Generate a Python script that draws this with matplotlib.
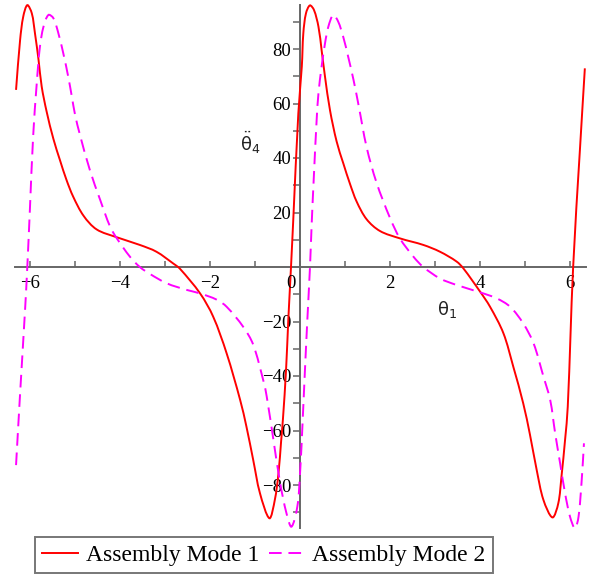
import matplotlib
matplotlib.use("Agg")
import matplotlib.pyplot as plt
import numpy as np
from matplotlib.lines import Line2D
from matplotlib.patches import PathPatch
from matplotlib.path import Path
from matplotlib.ticker import FixedLocator, FuncFormatter

# values (theta_1 in rad, theta_4 double-dot)
mode1_x = [-6.31, -6.22, -6.15, -6.06, -5.96, -5.89, -5.81, -5.74, -5.63, -5.48,
           -5.33, -5.19, -5.04, -4.81, -4.52, -4.07, -3.56, -3.19, -2.81, -2.67,
           -2.22, -1.93, -1.63, -1.33, -1.19, -1.04, -0.89, -0.68, -0.56, -0.48,
           -0.42, -0.38, -0.31, -0.26, -0.20, -0.15, -0.037, 0.04, 0.074, 0.133,
           0.22, 0.311, 0.41, 0.48, 0.556, 0.667, 0.815, 0.963, 1.111, 1.259,
           1.481, 1.778, 2.222, 2.74, 3.111, 3.48, 3.63, 4.0, 4.22, 4.52,
           4.74, 4.96, 5.11, 5.26, 5.41, 5.61, 5.74, 5.81, 5.89, 5.95,
           6.07, 6.22, 6.33]
mode1_y = [65.0, 83.3, 91.9, 96.1, 93.1, 85.8, 76.0, 66.2, 57.0, 47.0,
           39.0, 32.0, 25.8, 18.8, 13.8, 10.9, 8.1, 5.6, 1.2, -0.6,
           -9.7, -18.2, -31.7, -48.8, -58.6, -70.8, -83.0, -92.2, -85.5, -76.0,
           -64.0, -56.0, -37.8, -19.4, 0.0, 17.2, 56.4, 73.5, 85.8, 93.1,
           96.0, 94.3, 88.2, 79.6, 69.8, 57.5, 46.0, 38.0, 30.5, 24.0,
           17.5, 13.2, 10.5, 8.1, 5.6, 2.0, -0.5, -9.0, -14.5, -24.3,
           -36.6, -50.0, -61.5, -74.5, -85.5, -91.9, -86.7, -77.0, -63.5, -51.3,
           0.0, 42.9, 72.9]

mode2_x = [-6.31, -6.22, -6.11, -6.06, -6.0, -5.93, -5.85, -5.78, -5.70, -5.59,
           -5.48, -5.37, -5.26, -5.15, -5.07, -5.0, -4.89, -4.67, -4.44, -4.22,
           -4.07, -3.78, -3.56, -3.33, -2.96, -2.52, -2.22, -1.85, -1.63, -1.26,
           -1.04, -0.81, -0.74, -0.59, -0.44, -0.30, -0.19, -0.06, 0.0, 0.06,
           0.11, 0.163, 0.222, 0.26, 0.31, 0.37, 0.41, 0.48, 0.556, 0.63,
           0.74, 0.85, 0.96, 1.07, 1.19, 1.30, 1.48, 1.70, 2.0, 2.22,
           2.52, 2.74, 3.11, 3.48, 4.0, 4.37, 4.67, 4.96, 5.19,
           5.41, 5.56, 5.67, 5.78, 5.89, 6.0, 6.11, 6.19, 6.26, 6.31]
mode2_y = [-72.7, -46.4, -15.8, 0.0, 22.0, 48.0, 67.4, 80.8, 88.2, 92.5,
           91.3, 85.8, 78.4, 69.8, 62.5, 56.0, 48.5, 35.6, 24.6, 14.8,
           10.5, 3.8, 0.0, -2.6, -6.0, -8.4, -9.7, -12.0, -14.6, -22.0,
           -28.5, -42.0, -47.5, -63.5, -79.4, -90.4, -95.3, -88.0, -76.0, -56.0,
           -37.8, -19.4, 0.0, 16.0, 34.0, 54.0, 63.7, 73.5, 82.1, 88.2,
           92.5, 90.0, 84.5, 77.2, 68.6, 59.5, 44.0, 31.0, 18.0, 10.5,
           3.8, 0.0, -4.2, -6.6, -9.3, -11.5, -14.6, -20.7, -28.0,
           -40.2, -48.8, -61.0, -72.0, -83.0, -91.6, -95.9, -91.6, -78.2, -64.7]

labels = ["Assembly Mode 1", "Assembly Mode 2"]
x_major = [-6, -4, -2, 0, 2, 4, 6]
x_minor = [-5, -3, -1, 1, 3, 5]
y_major = [-80, -60, -40, -20, 20, 40, 60, 80]
y_minor = [-90, -70, -50, -30, -10, 10, 30, 50, 70, 90]

PX_X, PX_Y = 45.0, 2.725  # pixels per data unit, used for the curve tangents


def smooth_path(xs, ys):
    # cubic bezier segments through the read points (chord-length tangents)
    p = np.column_stack([xs, ys]).astype(float)
    s = p * [PX_X, PX_Y]
    d = np.hypot(*np.diff(s, axis=0).T)
    n = len(p)
    tang = np.zeros_like(p)
    for i in range(n):
        lo, hi = max(i - 1, 0), min(i + 1, n - 1)
        span = d[lo:hi].sum()
        tang[i] = (p[hi] - p[lo]) / span
    verts, codes = [p[0]], [Path.MOVETO]
    for i in range(n - 1):
        verts += [p[i] + tang[i] * d[i] / 3, p[i + 1] - tang[i + 1] * d[i] / 3, p[i + 1]]
        codes += [Path.CURVE4] * 3
    return Path(verts, codes)


plt.rcParams["font.family"] = ["Liberation Serif", "DejaVu Sans"]
plt.rcParams["mathtext.fontset"] = "custom"
plt.rcParams["mathtext.rm"] = "DejaVu Sans"
plt.rcParams["mathtext.it"] = "DejaVu Sans"
plt.rcParams["mathtext.bf"] = "DejaVu Sans:bold"

axis_col = "#666666"
red, magenta = "#ff0000", "#ff00ff"
fig = plt.figure(figsize=(5.92, 5.75), dpi=100)
ax = fig.add_axes([15 / 592, 47 / 575, 571 / 592, 523 / 575])
ax.set_xlim((15 - 300) / PX_X, (586 - 300) / PX_X)
ax.set_ylim((267 - 528) / PX_Y, (267 - 5) / PX_Y)

ax.add_patch(PathPatch(smooth_path(mode1_x, mode1_y), fill=False, edgecolor=red,
                       lw=1.4, clip_on=False, zorder=3))
ax.add_patch(PathPatch(smooth_path(mode2_x, mode2_y), fill=False, edgecolor=magenta,
                       lw=1.4, linestyle=(0, (6.5, 3.5)), clip_on=False, zorder=3))

for side in ("top", "right"):
    ax.spines[side].set_visible(False)
for side in ("left", "bottom"):
    ax.spines[side].set_position(("data", 0))
    ax.spines[side].set_color(axis_col)
    ax.spines[side].set_linewidth(1.4)
    ax.spines[side].set_zorder(1)

ax.xaxis.set_major_locator(FixedLocator(x_major))
ax.xaxis.set_minor_locator(FixedLocator(x_minor))
ax.yaxis.set_major_locator(FixedLocator(y_major))
ax.yaxis.set_minor_locator(FixedLocator(y_minor))
ax.xaxis.set_major_formatter(FuncFormatter(lambda v, p: "" if v == 0 else f"{v:.0f}".replace("-", "\u2212")))
ax.yaxis.set_major_formatter(FuncFormatter(lambda v, p: f"{v:.0f}".replace("-", "\u2212")))
ax.tick_params(axis="x", which="both", direction="in", length=4, width=1.1,
               color=axis_col, pad=6, labelsize=13.5)
ax.tick_params(axis="y", which="both", direction="out", length=5, width=1.1,
               color=axis_col, pad=1.5, labelsize=13.5)
ax.annotate("0", xy=(0, 0), xytext=(-6.5, -6), textcoords="offset points",
            ha="center", va="top", fontsize=13.5)

fig.text(250 / 592, 1 - 143 / 575, r"$\ddot{\theta}_4$", ha="center", va="center",
         fontsize=13, color="#222222")
fig.text(447 / 592, 1 - 310 / 575, r"$\theta_1$", ha="center", va="center",
         fontsize=13, color="#222222")

handles = [Line2D([], [], color=red, lw=1.4),
           Line2D([], [], color=magenta, lw=1.4, dashes=(6.5, 3.5))]
leg = fig.legend(handles, labels, loc="center", bbox_to_anchor=(264 / 592, 1 - 555 / 575),
                 ncol=2, fontsize=17, frameon=True, fancybox=False, framealpha=1,
                 edgecolor="#777777", handlelength=1.5, handletextpad=0.35,
                 columnspacing=0.4, borderpad=0.3, borderaxespad=0)
leg.get_frame().set_linewidth(1.4)

fig.savefig("out.png", dpi=100)
